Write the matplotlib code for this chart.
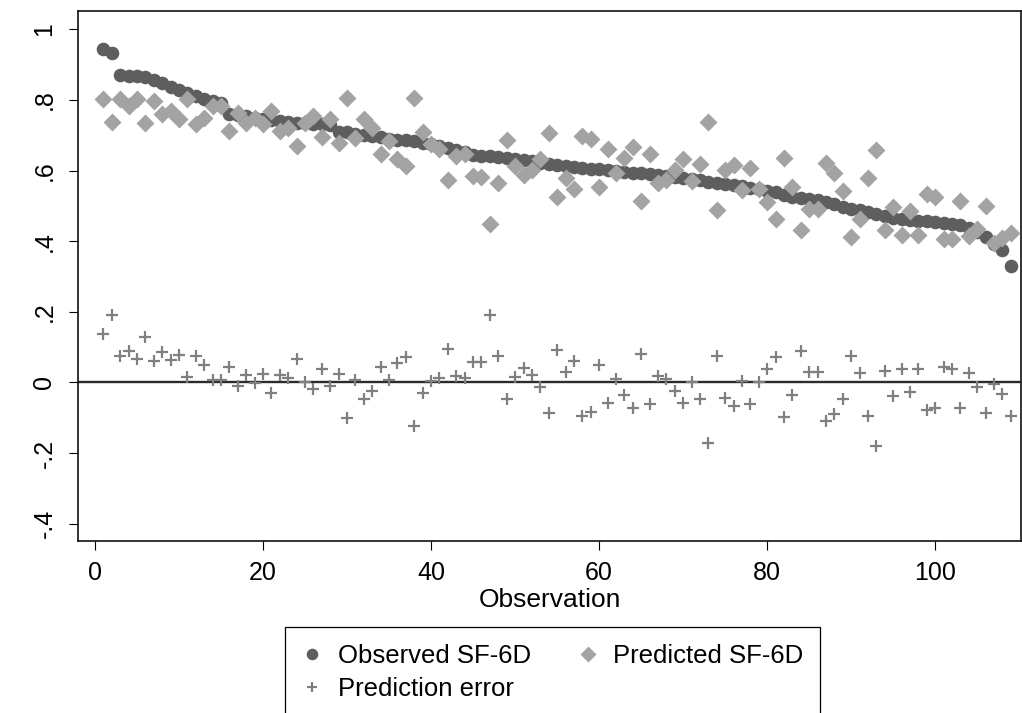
#Observed vs predicted SF-6D with prediction error
import numpy as np
import matplotlib.pyplot as plt

plt.rcParams['font.family']=['Liberation Sans','DejaVu Sans']

#observed SF-6D, sorted high to low
observed=[.943,.934,.870,.868,.867,.866,.857,.848,.838,.828,
          .820,.810,.802,.797,.792,.760,.757,.754,.750,.746,
          .742,.740,.738,.736,.735,.733,.732,.730,.710,.708,
          .705,.702,.697,.694,.690,.688,.686,.684,.678,.674,
          .670,.664,.658,.652,.645,.642,.640,.638,.636,.633,
          .630,.627,.622,.618,.615,.612,.609,.607,.605,.604,
          .603,.600,.597,.594,.592,.590,.587,.584,.581,.578,
          .575,.572,.568,.565,.562,.558,.555,.551,.548,.543,
          .538,.530,.525,.522,.520,.518,.512,.505,.498,.492,
          .488,.482,.478,.472,.466,.462,.460,.458,.456,.454,
          .452,.450,.446,.438,.425,.413,.393,.374,.329]
predicted=[.804,.738,.802,.783,.802,.736,.797,.759,.769,.745,
           .802,.731,.750,.783,.783,.712,.764,.736,.750,.731,
           .769,.712,.722,.670,.736,.755,.696,.745,.679,.805,
           .693,.745,.722,.646,.684,.632,.613,.805,.708,.674,
           .660,.573,.641,.646,.586,.583,.449,.566,.686,.613,
           .588,.601,.632,.706,.526,.578,.547,.698,.689,.553,
           .662,.594,.637,.668,.515,.646,.566,.572,.603,.632,
           .570,.620,.739,.488,.601,.616,.545,.608,.547,.510,
           .464,.637,.554,.433,.490,.490,.622,.594,.542,.412,
           .462,.580,.658,.433,.498,.419,.485,.419,.535,.525,
           .405,.407,.515,.414,.436,.499,.395,.410,.422]
pred_error=[.137,.190,.074,.090,.066,.130,.062,.085,.064,.077,
            .015,.074,.050,.008,.008,.044,-.011,.022,-.002,.024,
            -.030,.022,.014,.067,.002,-.019,.038,-.011,.025,-.101,
            .006,-.046,-.023,.045,.006,.055,.072,-.123,-.030,.003,
            .012,.095,.017,.012,.057,.057,.190,.074,-.047,.015,
            .042,.020,-.013,-.087,.091,.031,.060,-.096,-.085,.050,
            -.058,.010,-.035,-.073,.081,-.060,.019,.010,-.024,-.058,
            .000,-.046,-.172,.074,-.044,-.066,.003,-.061,.000,.038,
            .072,-.099,-.035,.088,.031,.031,-.108,-.090,-.046,.076,
            .027,-.094,-.180,.033,-.037,.039,-.028,.039,-.077,-.073,
            .043,.038,-.071,.027,-.014,-.087,-.004,-.032,-.094]
obs_no=np.arange(1,len(observed)+1)

xticks=[0,20,40,60,80,100]
yticks=[-.4,-.2,0,.2,.4,.6,.8,1]
ylabels=['-.4','-.2','0','.2','.4','.6','.8','1']

fig=plt.figure(figsize=(10.22,7.13),dpi=100)
ax=fig.add_axes([0.0763,0.2412,0.9227,0.7434])

ax.axhline(0,color='#2b2b2b',lw=1.7,zorder=1)
h1,=ax.plot(obs_no,observed,'o',ms=9.8,color='#5e5e5e',mec='none',label='Observed SF-6D',zorder=2)
h2,=ax.plot(obs_no,predicted,'D',ms=9.2,color='#a3a3a3',mec='none',label='Predicted SF-6D',zorder=3)
h3,=ax.plot(obs_no,pred_error,'+',ms=9,mew=1.6,color='#808080',label='Prediction error',zorder=3)

ax.set_xlim(-2.02,110.2)
ax.set_ylim(-0.449,1.052)
ax.set_xticks(xticks)
ax.set_yticks(yticks,labels=ylabels)
for lab in ax.get_yticklabels():
    lab.set_rotation(90)
    lab.set_va('center')
ax.tick_params(axis='both',direction='out',length=6.5,width=0.8,labelsize=18,colors='black')
ax.tick_params(axis='x',pad=8)
ax.tick_params(axis='y',pad=9)
for s in ax.spines.values():
    s.set_linewidth(1.2)
    s.set_color('#111111')
ax.set_xlabel('Observation',fontsize=19,labelpad=2)

#legend in row order: obs, pred / error
leg=fig.legend([h1,h3,h2],['Observed SF-6D','Prediction error','Predicted SF-6D'],
               loc='lower center',bbox_to_anchor=(0.541,-0.024),ncol=2,fontsize=18.5,
               frameon=True,fancybox=False,edgecolor='black',framealpha=1,
               handlelength=0.8,handletextpad=0.6,columnspacing=1.8,
               borderpad=0.65,labelspacing=0.35,markerscale=0.85)
leg.get_frame().set_linewidth(0.9)

plt.savefig("out.png",dpi=100)
